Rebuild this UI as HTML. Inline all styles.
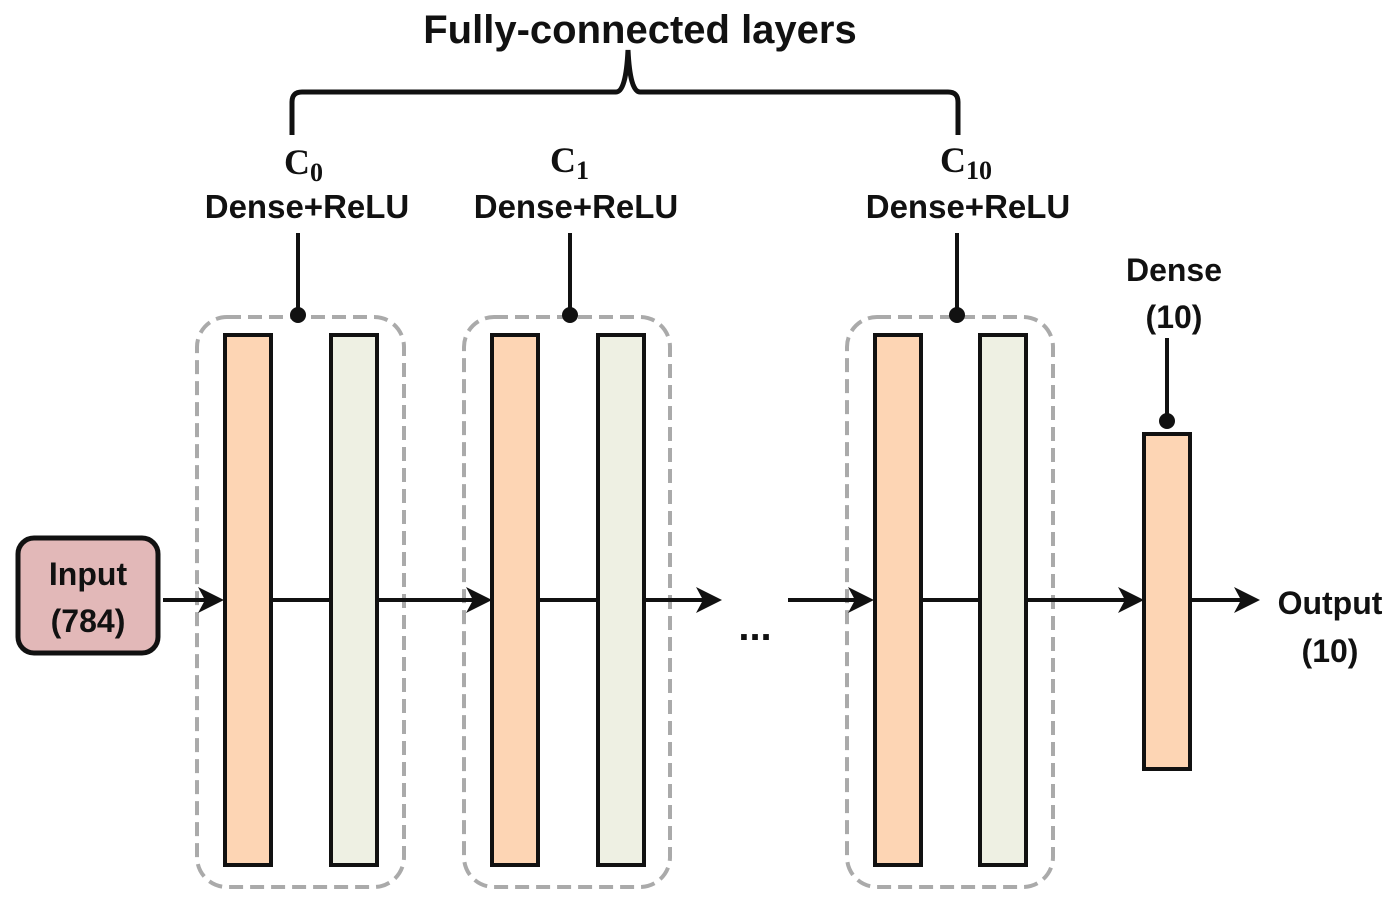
<!DOCTYPE html>
<html><head><meta charset="utf-8"><style>body{margin:0;background:#fff}svg{display:block}</style></head><body>
<svg width="1392" height="898" viewBox="0 0 1392 898" xmlns="http://www.w3.org/2000/svg">
<path d="M292,135 V102 Q292,92 302,92 H616 Q626,92 628,50 Q630,92 640,92 H948 Q958,92 958,102 V135" fill="none" stroke="#111" stroke-width="5"/>
<g fill="none" stroke="#aaa" stroke-width="4" stroke-dasharray="14,7">
<rect x="197" y="317" width="207" height="570" rx="30"/>
<rect x="464" y="317" width="206" height="570" rx="30"/>
<rect x="847" y="317" width="206" height="570" rx="30"/>
</g>
<g stroke="#111" stroke-width="4">
<rect x="225" y="335" width="46" height="530" fill="#fdd5b4"/>
<rect x="331" y="335" width="46" height="530" fill="#eef0e3"/>
<rect x="492" y="335" width="46" height="530" fill="#fdd5b4"/>
<rect x="598" y="335" width="46" height="530" fill="#eef0e3"/>
<rect x="875" y="335" width="46" height="530" fill="#fdd5b4"/>
<rect x="980" y="335" width="46" height="530" fill="#eef0e3"/>
<rect x="1144" y="434" width="46" height="335" fill="#fdd5b4"/>
<rect x="18" y="538" width="140" height="115" rx="16" fill="#e2b8b8" stroke-width="5"/>
<line x1="298" y1="233" x2="298" y2="314"/>
<line x1="570" y1="233" x2="570" y2="314"/>
<line x1="957" y1="233" x2="957" y2="314"/>
<line x1="1167" y1="338" x2="1167" y2="420"/>
<line x1="271" y1="600" x2="331" y2="600"/>
<line x1="538" y1="600" x2="598" y2="600"/>
<line x1="921" y1="600" x2="980" y2="600"/>
<line x1="163" y1="600" x2="218" y2="600"/>
<line x1="377" y1="600" x2="486" y2="600"/>
<line x1="644" y1="600" x2="716" y2="600"/>
<line x1="788" y1="600" x2="868" y2="600"/>
<line x1="1026" y1="600" x2="1138" y2="600"/>
<line x1="1190" y1="600" x2="1252" y2="600"/>
</g>
<g fill="#111">
<circle cx="298" cy="315" r="8"/><circle cx="570" cy="315" r="8"/><circle cx="957" cy="315" r="8"/><circle cx="1167" cy="421" r="8"/>
<path d="M224,600 l-26,-13 l7,13 l-7,13z"/>
<path d="M492,600 l-26,-13 l7,13 l-7,13z"/>
<path d="M722,600 l-26,-13 l7,13 l-7,13z"/>
<path d="M874,600 l-26,-13 l7,13 l-7,13z"/>
<path d="M1144,600 l-26,-13 l7,13 l-7,13z"/>
<path d="M1260,600 l-26,-13 l7,13 l-7,13z"/>
</g>
<g font-family="Liberation Sans, sans-serif" font-weight="bold" fill="#111" text-anchor="middle">
<text x="640" y="43" font-size="40">Fully-connected layers</text>
<text x="307" y="218" font-size="33">Dense+ReLU</text>
<text x="576" y="218" font-size="33">Dense+ReLU</text>
<text x="968" y="218" font-size="33">Dense+ReLU</text>
<text x="1174" y="281" font-size="32">Dense</text>
<text x="1174" y="328" font-size="32">(10)</text>
<text x="1330" y="614" font-size="32">Output</text>
<text x="1330" y="662" font-size="32">(10)</text>
<text x="88" y="585" font-size="32">Input</text>
<text x="88" y="632" font-size="32">(784)</text>
<text x="755" y="640" font-size="40">...</text>
</g>
<g font-family="Liberation Serif, serif" font-weight="bold" fill="#111">
<text x="284" y="174" font-size="36">C<tspan font-size="26" dy="7">0</tspan></text>
<text x="550" y="172" font-size="36">C<tspan font-size="26" dy="7">1</tspan></text>
<text x="940" y="172" font-size="36">C<tspan font-size="26" dy="7">10</tspan></text>
</g>
</svg>
</body></html>
